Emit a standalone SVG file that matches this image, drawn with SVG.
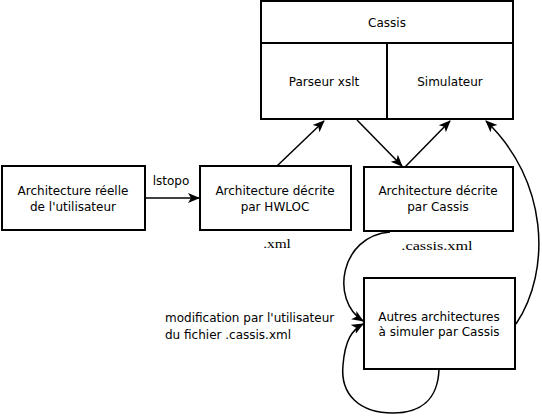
<svg xmlns="http://www.w3.org/2000/svg" width="542" height="416" viewBox="0 0 542 416">
<defs>
<style>
.box{fill:#fff;stroke:#000;stroke-width:2}
.t{font-family:"DejaVu Sans",sans-serif;font-size:12px;fill:#000;text-anchor:middle}
.s{font-family:"Liberation Serif","DejaVu Serif",serif;font-size:13px;fill:#000;text-anchor:middle}
.c{fill:none;stroke:#000;stroke-width:1.5}
</style>
<marker id="ah" markerUnits="userSpaceOnUse" markerWidth="12" markerHeight="12" viewBox="0 0 12 12" refX="11" refY="6" orient="auto">
<path d="M0,1 L12,6 L0,11 L3,6 z" fill="#000"/>
</marker>
</defs>
<rect width="542" height="416" fill="#fff"/>
<g id="cassis">
<rect class="box" x="261" y="1" width="252" height="118"/>
<line x1="261" y1="43" x2="513" y2="43" stroke="#000" stroke-width="2"/>
<line x1="387" y1="43" x2="387" y2="119" stroke="#000" stroke-width="2"/>
<text class="t" x="387" y="27">Cassis</text>
<text class="t" x="324" y="86">Parseur xslt</text>
<text class="t" x="450" y="86">Simulateur</text>
</g>
<g id="reelle">
<rect class="box" x="2" y="166" width="143" height="64"/>
<text class="t" x="73" y="195">Architecture réelle</text>
<text class="t" x="73" y="211">de l'utilisateur</text>
</g>
<g id="hwloc">
<rect class="box" x="200" y="166" width="151" height="64"/>
<text class="t" x="275" y="195">Architecture décrite</text>
<text class="t" x="275" y="211">par HWLOC</text>
</g>
<g id="decrite">
<rect class="box" x="364" y="167" width="149" height="64"/>
<text class="t" x="438" y="195">Architecture décrite</text>
<text class="t" x="438" y="211">par Cassis</text>
</g>
<g id="autres">
<rect class="box" x="364" y="278" width="151" height="91"/>
<text class="t" x="439" y="321">Autres architectures</text>
<text class="t" x="439" y="336">à simuler par Cassis</text>
</g>
<g id="connectors">
<line class="c" x1="145" y1="198" x2="199" y2="198" marker-end="url(#ah)"/>
<line class="c" x1="277" y1="166" x2="324" y2="121" marker-end="url(#ah)"/>
<line class="c" x1="357" y1="120" x2="402" y2="166" marker-end="url(#ah)"/>
<line class="c" x1="405" y1="167" x2="450" y2="121" marker-end="url(#ah)"/>
<path class="c" d="M516,324 C552,270 548,180 486,121" marker-end="url(#ah)"/>
<path class="c" d="M390,232 C340,236 330,300 363,321" marker-end="url(#ah)"/>
<path class="c" d="M439,369 C438,400 420,413 393,413 C360,413 340,395 343,365 C345,340 352,330 363,324" marker-end="url(#ah)"/>
<text class="t" x="171" y="185">lstopo</text>
<text class="s" transform="translate(277,248) scale(1.18,1)" x="0" y="0">.xml</text>
<text class="s" transform="translate(437,250) scale(1.25,1)" x="0" y="0">.cassis.xml</text>
<text class="t" x="165" y="322" style="text-anchor:start">modification par l'utilisateur</text>
<text class="t" x="165" y="339" style="text-anchor:start">du fichier .cassis.xml</text>
</g>
</svg>
